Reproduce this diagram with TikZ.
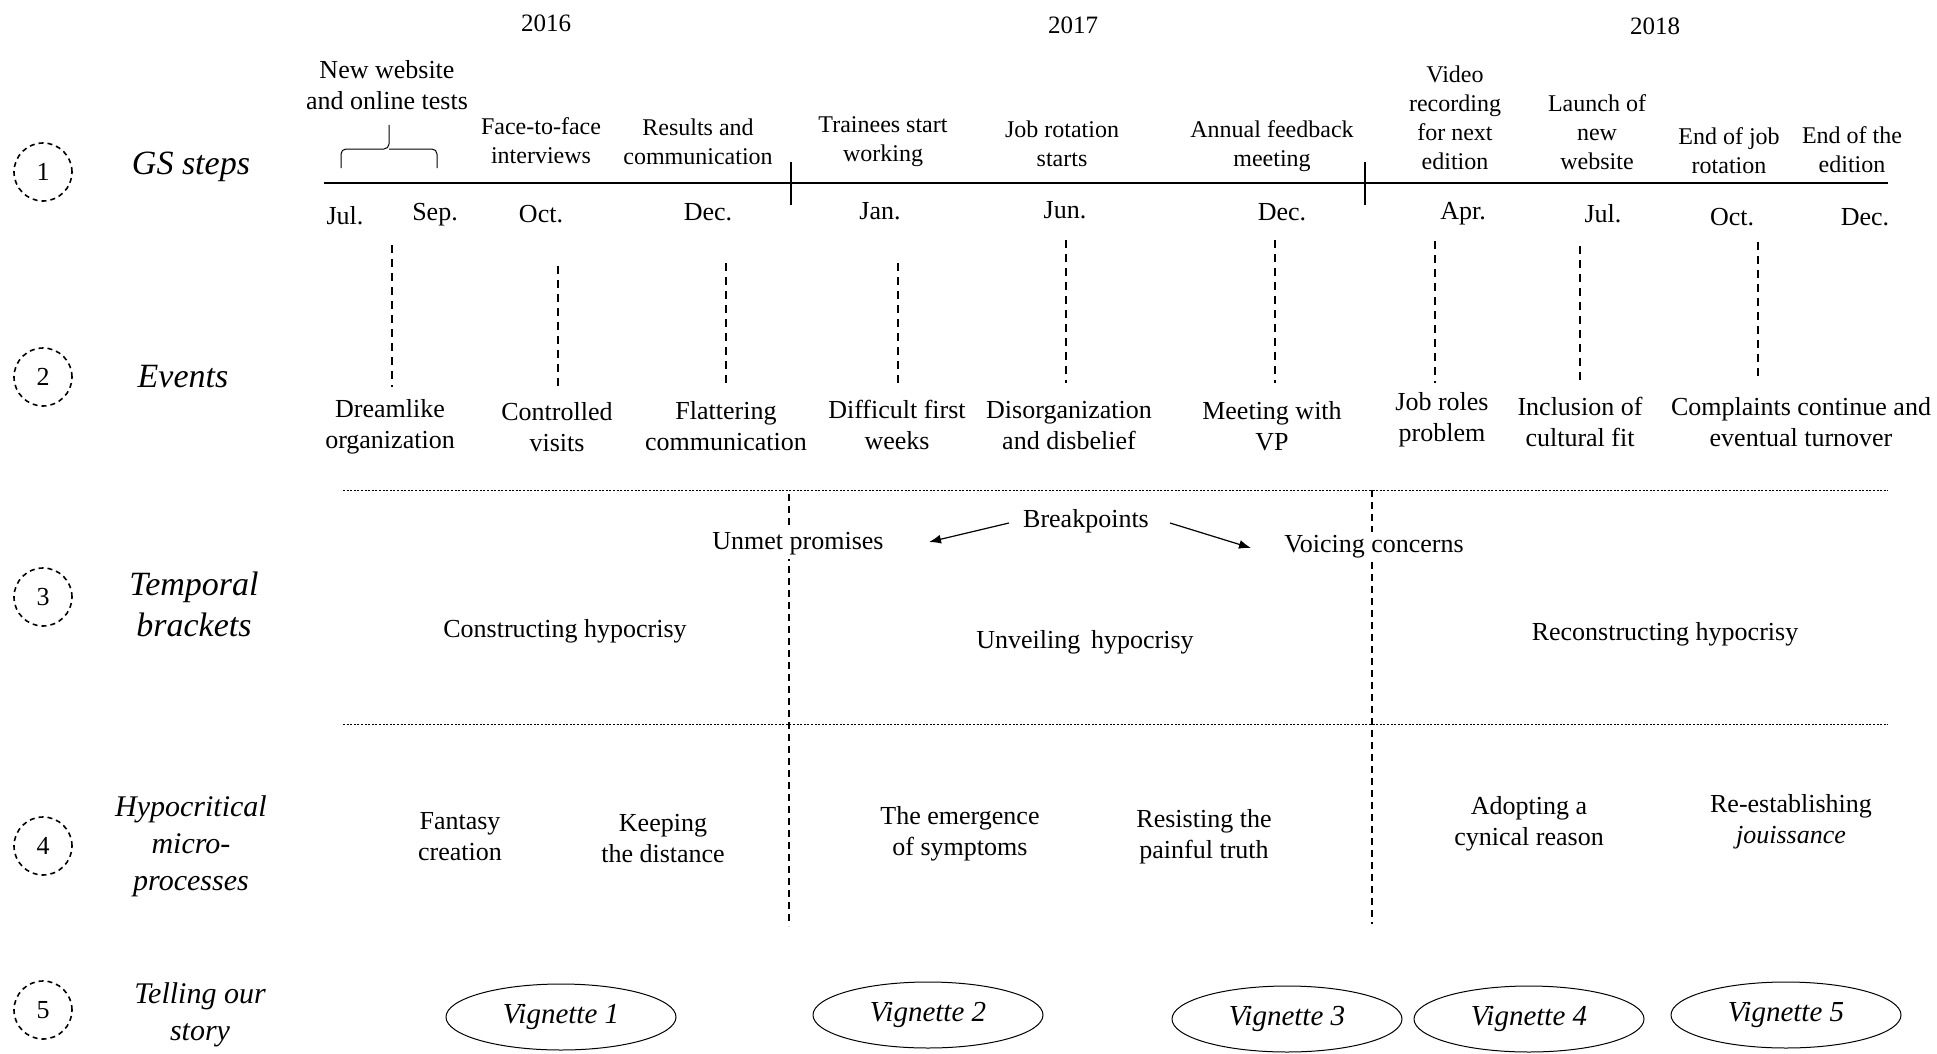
\documentclass[tikz,border=0pt]{standalone}
\usepackage{fontspec}
\setmainfont{Liberation Serif}
\usetikzlibrary{arrows.meta,shapes.geometric}
\tikzset{
  lbl/.style={font=\fontsize{12}{14.5}\selectfont, align=center, inner sep=1pt},
  evt/.style={font=\fontsize{13}{15.5}\selectfont, align=center, inner sep=1pt},
  mon/.style={font=\fontsize{13}{15}\selectfont, inner sep=1pt},
  yr/.style={font=\fontsize{12.5}{15}\selectfont, inner sep=1pt},
  rowlab/.style={font=\fontsize{17}{20.5}\selectfont\itshape, align=center, inner sep=1pt},
  rowlabs/.style={font=\fontsize{15}{18.4}\selectfont\itshape, align=center, inner sep=1pt},
  numcirc/.style={circle, draw, dash pattern=on 2.5pt off 2pt, line width=0.8pt,
    minimum size=29pt, inner sep=0pt, font=\fontsize{13}{15}\selectfont},
  evline/.style={line width=1.2pt, dash pattern=on 4pt off 3pt},
  divider/.style={line width=0.7pt, dash pattern=on 3.5pt off 2.5pt},
  sepline/.style={line width=0.5pt, dash pattern=on 1pt off 0.8pt},
  vig/.style={ellipse, draw, line width=0.5pt, minimum width=115pt, minimum height=33pt,
    inner sep=0pt, font=\fontsize{14.5}{16}\selectfont\itshape},
  arr/.style={line width=0.6pt, -{Latex[length=6pt,width=4.5pt]}},
  whitebg/.style={fill=white, inner sep=2pt},
  bracket/.style={line width=0.5pt, rounded corners=2.5pt}
}
\begin{document}
\begin{tikzpicture}[x=0.5pt, y=-0.5pt]
\useasboundingbox (0,0) rectangle (1937,1054);

% ---- row markers ----
\node[numcirc] (c1) at (43,172) {1};
\node[numcirc] (c2) at (43,377) {2};
\node[numcirc] (c3) at (43,597) {3};
\node[numcirc] (c4) at (43,846) {4};
\node[numcirc] (c5) at (43,1010) {5};

\node[rowlab] (r1) at (191,167) {GS steps};
\node[rowlab] (r2) at (183,377) {Events};
\node[rowlab] (r3) at (194,604) {Temporal\\brackets};
\node[rowlabs] (r4) at (191,846) {Hypocritical\\micro-\\processes};
\node[rowlabs] (r5) at (200,1015) {Telling our\\story};

% ---- years ----
\node[yr] (y16) at (546,23) {2016};
\node[yr] (y17) at (1073,25) {2017};
\node[yr] (y18) at (1655,26) {2018};

% ---- timeline ----
\coordinate (tlL) at (324,183);
\coordinate (tlR) at (1888,183);
\draw[line width=1.4pt] (tlL) -- (tlR);
\coordinate (k1a) at (791,162); \coordinate (k1b) at (791,205);
\coordinate (k2a) at (1365,162); \coordinate (k2b) at (1365,205);
\draw[line width=1pt] (k1a) -- (k1b);
\draw[line width=1pt] (k2a) -- (k2b);

% bracket over Jul.--Sep.
\coordinate (brL) at (341,168);
\coordinate (brR) at (437,168);
\coordinate (brT) at (389,125);
\draw[bracket] (brL) -- (341,149) -- (389,149) -- (brT);
\draw[bracket] (brR) -- (437,149) -- (389,149);

% ---- step descriptions ----
\node[evt] (s1) at (387,85) {New website\\and online tests};
\node[lbl] (s2) at (541,141) {Face-to-face\\interviews};
\node[lbl] (s3) at (698,142) {Results and\\communication};
\node[lbl] (s4) at (883,142) {Trainees start\\working};
\node[lbl] (s5) at (1062,144) {Job rotation\\starts};
\node[lbl] (s6) at (1272,146) {Annual feedback\\meeting};
\node[lbl] (s7) at (1455,118) {Video\\recording\\for next\\edition};
\node[lbl] (s8) at (1597,132) {Launch of\\new\\website};
\node[lbl] (s9) at (1729,151) {End of job\\rotation};
\node[lbl] (s10) at (1852,150) {End of the\\edition};

% ---- months ----
\node[mon] (m1) at (345,216) {Jul.};
\node[mon] (m2) at (435,215) {Sep.};
\node[mon] (m3) at (541,214) {Oct.};
\node[mon] (m4) at (708,212) {Dec.};
\node[mon] (m5) at (880,211) {Jan.};
\node[mon] (m6) at (1065,210) {Jun.};
\node[mon] (m7) at (1282,212) {Dec.};
\node[mon] (m8) at (1463,214) {Apr.};
\node[mon] (m9) at (1603,214) {Jul.};
\node[mon] (m10) at (1732,217) {Oct.};
\node[mon] (m11) at (1865,217) {Dec.};

% ---- events ----
\node[evt] (e1) at (390,427) {Dreamlike\\organization};
\node[evt] (e2) at (557,427) {Controlled\\visits};
\node[evt] (e3) at (726,426) {Flattering\\communication};
\node[evt] (e4) at (897,425) {Difficult first\\weeks};
\node[evt] (e5) at (1069,426) {Disorganization\\and disbelief};
\node[evt] (e6) at (1272,426) {Meeting with\\VP};
\node[evt] (e7) at (1442,420) {Job roles\\problem};
\node[evt] (e8) at (1580,422) {Inclusion of\\cultural fit};
\node[evt] (e9) at (1801,422) {Complaints continue and\\eventual turnover};

\coordinate (v1) at (392,245);  \coordinate (w1) at (392,387);
\coordinate (v2) at (558,266);  \coordinate (w2) at (558,387);
\coordinate (v3) at (726,263);  \coordinate (w3) at (726,387);
\coordinate (v4) at (898,263);  \coordinate (w4) at (898,387);
\coordinate (v5) at (1066,240); \coordinate (w5) at (1066,383);
\coordinate (v6) at (1275,240); \coordinate (w6) at (1275,383);
\coordinate (v7) at (1435,241); \coordinate (w7) at (1435,383);
\coordinate (v8) at (1580,246); \coordinate (w8) at (1580,383);
\coordinate (v9) at (1758,242); \coordinate (w9) at (1758,376);
\foreach \i in {1,...,9} \draw[evline] (v\i) -- (w\i);

% ---- bracket separators ----
\coordinate (h1L) at (343,490); \coordinate (h1R) at (1888,490);
\coordinate (h2L) at (343,724); \coordinate (h2R) at (1888,724);
\draw[sepline] (h1L) -- (h1R);
\draw[sepline] (h2L) -- (h2R);

\coordinate (d1t) at (789,494);  \coordinate (d1b) at (789,926);
\coordinate (d2t) at (1372,490); \coordinate (d2b) at (1372,924);
\draw[divider] (d1t) -- (d1b);
\draw[divider] (d2t) -- (d2b);

% ---- temporal brackets ----
\node[evt, whitebg] (um) at (798,544) {Unmet promises};
\node[evt] (bp) at (1086,521) {Breakpoints};
\node[evt, whitebg] (vc) at (1374,547) {Voicing concerns};
\coordinate (a1s) at (1009,523); \coordinate (a1e) at (929,542);
\coordinate (a2s) at (1170,523); \coordinate (a2e) at (1251,548);
\draw[arr] (a1s) -- (a1e);
\draw[arr] (a2s) -- (a2e);

\node[evt] (b1) at (565,631) {Constructing hypocrisy};
\node[evt] (b2) at (1085,642) {Unveiling\, hypocrisy};
\node[evt] (b3) at (1665,634) {Reconstructing hypocrisy};

% ---- micro-processes ----
\node[evt] (p1) at (460,837) {Fantasy\\creation};
\node[evt] (p2) at (663,839) {Keeping\\the distance};
\node[evt] (p3) at (960,834) {The emergence\\of symptoms};
\node[evt] (p4) at (1204,837) {Resisting the\\painful truth};
\node[evt] (p5) at (1529,824) {Adopting a\\cynical reason};
\node[evt] (p6) at (1791,822) {Re-establishing\\\textit{jouissance}};

% ---- vignettes ----
\node[vig] (g1) at (561,1017) {Vignette 1};
\node[vig] (g2) at (928,1015) {Vignette 2};
\node[vig] (g3) at (1287,1019) {Vignette 3};
\node[vig] (g4) at (1529,1019) {Vignette 4};
\node[vig] (g5) at (1786,1015) {Vignette 5};
\end{tikzpicture}
\end{document}
